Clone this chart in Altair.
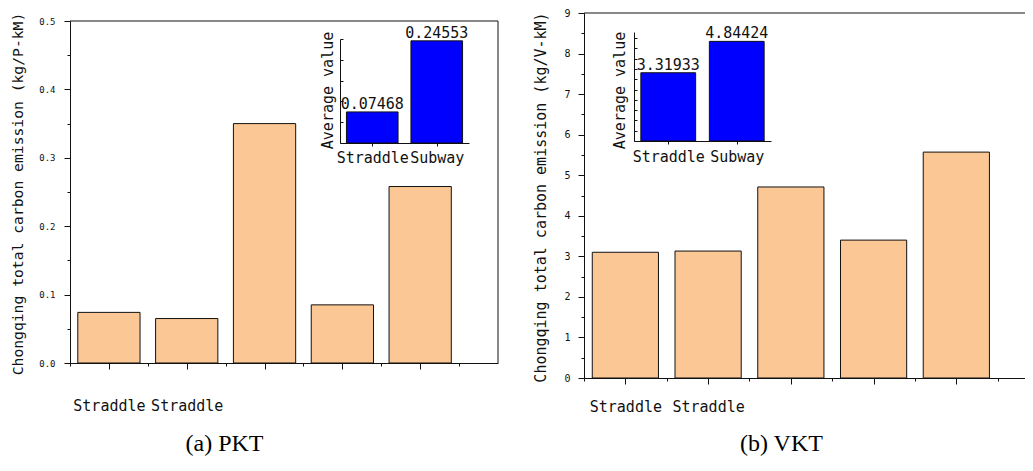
import json
import altair as alt
import pandas as pd

# ---------------- data ----------------
categories = [1, 2, 3, 4, 5]
x_tick_labels = ["Straddle", "Straddle", "", "", ""]
pkt_values = [0.074, 0.065, 0.350, 0.085, 0.258]
vkt_values = [3.10, 3.13, 4.71, 3.40, 5.57]
avg_positions = [1, 2]
avg_categories = ["Straddle", "Subway"]
pkt_avg = [0.07468, 0.24553]
vkt_avg = [3.31933, 4.84424]
pkt_title = "Chongqing total carbon emission (kg/P-kM)"
vkt_title = "Chongqing total carbon emission (kg/V-kM)"
captions = ["(a) PKT", "(b) VKT"]

# ---------------- style / layout ----------------
W, H = 1017, 448
MONO = "DejaVu Sans Mono"
SERIF = "Liberation Serif"
PEACH = "#FBC895"
BLUE = "#0000FF"
INK = "#111111"


def scale(dom, rng):
    return alt.Scale(domain=dom, range=rng, nice=False, zero=False)


def main_panel(vals, xdom, xrange, ydom, yrange, yvalues, ymajor_test,
               ylabel_expr, ytitle, ytitle_xy, caption, caption_xy,
               ylabel_size, ylabel_pad, xlabel_pad, title_size):
    df = pd.DataFrame({"pos": categories, "value": vals})
    x_vals = [v / 2 for v in range(1, 12)]
    labels_js = json.dumps(x_tick_labels)
    x_axis = alt.Axis(
        orient="bottom", offset=yrange[0] - H, values=x_vals,
        tickSize={"condition": {"test": "datum.value == round(datum.value)", "value": 6}, "value": 3},
        labelExpr=(f"(datum.value == round(datum.value) && datum.value >= 1 && "
                   f"datum.value <= {len(x_tick_labels)}) ? {labels_js}[datum.value - 1] : ''"),
        labelFont=MONO, labelFontSize=15, labelPadding=xlabel_pad, labelColor=INK,
        labelFlush=False, labelOverlap=False, labelAngle=0,
        domainColor=INK, tickColor=INK, domainWidth=1, tickWidth=1, grid=False,
        title=caption, titleFont=SERIF, titleFontSize=24, titleFontWeight="normal",
        titleColor="black", titleX=caption_xy[0], titleY=caption_xy[1],
        titleAlign="center", titleBaseline="alphabetic", titleAngle=0,
    )
    y_axis = alt.Axis(
        orient="left", offset=-xrange[0], values=yvalues,
        tickSize={"condition": {"test": ymajor_test, "value": 6}, "value": 3},
        labelExpr=ylabel_expr, labelFont=MONO, labelFontSize=ylabel_size,
        labelPadding=ylabel_pad, labelColor=INK, labelFlush=False, labelOverlap=False,
        domainColor=INK, tickColor=INK, domainWidth=1, tickWidth=1, grid=False,
        title=ytitle, titleFont=MONO, titleFontSize=title_size, titleFontWeight="normal",
        titleColor=INK, titleAngle=270, titleX=ytitle_xy[0], titleY=ytitle_xy[1],
        titleAlign="center", titleBaseline="middle",
    )
    bars = alt.Chart(df).transform_calculate(
        x0="datum.pos - 0.4", x1="datum.pos + 0.4"
    ).mark_bar(fill=PEACH, stroke=INK, strokeWidth=1).encode(
        x=alt.X("x0:Q", scale=scale(xdom, xrange), axis=x_axis),
        x2="x1:Q",
        y=alt.Y("value:Q", scale=scale(ydom, yrange), axis=y_axis),
        y2=alt.Y2(datum=0),
    )
    frame = pd.DataFrame({"x0": [xdom[0]], "x1": [xdom[1]], "y0": [ydom[0]], "y1": [ydom[1]]})
    top_rule = alt.Chart(frame).mark_rule(color=INK, strokeWidth=1).encode(
        x=alt.X("x0:Q", scale=scale(xdom, xrange), axis=None),
        x2="x1:Q",
        y=alt.Y("y1:Q", scale=scale(ydom, yrange), axis=None),
    )
    layers = [bars, top_rule]
    if xdom[1] >= 6:
        right_rule = alt.Chart(frame).mark_rule(color=INK, strokeWidth=1).encode(
            x=alt.X("x1:Q", scale=scale(xdom, xrange), axis=None),
            y=alt.Y("y0:Q", scale=scale(ydom, yrange), axis=None),
            y2="y1:Q",
        )
        layers.append(right_rule)
    return layers


def inset_panel(vals, xrange, ydom, yrange, yvalues, ytick_size, title_xy, label_pad):
    df = pd.DataFrame({"pos": avg_positions, "name": avg_categories, "value": vals})
    xdom = [0.5, 2.5]
    names_js = json.dumps(avg_categories)
    x_axis = alt.Axis(
        orient="bottom", offset=yrange[0] - H, values=avg_positions, tickSize=3,
        labelExpr=f"{names_js}[datum.value - 1]", labelFont=MONO, labelFontSize=15,
        labelPadding=label_pad, labelColor=INK, labelFlush=False, labelOverlap=False,
        labelAngle=0, domainColor=INK, tickColor=INK, domainWidth=1, tickWidth=1,
        grid=False, title=None,
    )
    y_axis = alt.Axis(
        orient="right", offset=xrange[0] - W, values=yvalues, tickSize=ytick_size,
        labels=False, domainColor=INK, tickColor=INK, domainWidth=1, tickWidth=1,
        grid=False, title="Average value", titleFont=MONO, titleFontSize=15,
        titleFontWeight="normal", titleColor=INK, titleAngle=270,
        titleX=title_xy[0], titleY=title_xy[1], titleAlign="center", titleBaseline="middle",
    )
    base = alt.Chart(df).transform_calculate(x0="datum.pos - 0.4", x1="datum.pos + 0.4")
    bars = base.mark_bar(fill=BLUE, stroke=INK, strokeWidth=1).encode(
        x=alt.X("x0:Q", scale=scale(xdom, xrange), axis=x_axis),
        x2="x1:Q",
        y=alt.Y("value:Q", scale=scale(ydom, yrange), axis=y_axis),
        y2=alt.Y2(datum=0),
    )
    text = base.mark_text(baseline="alphabetic", dy=-3, font=MONO, fontSize=15,
                          color=INK).encode(
        x=alt.X("pos:Q", scale=scale(xdom, xrange), axis=None),
        y=alt.Y("value:Q", scale=scale(ydom, yrange), axis=None),
        text=alt.Text("value:Q", format=".5f"),
    )
    return [bars, text]


pkt_y_vals = [round(i * 0.05, 2) for i in range(11)]
vkt_y_vals = [i * 0.5 for i in range(19)]

layers = []
layers += main_panel(
    pkt_values, [0.5, 6.0], [62, 490], [0, 0.5], [355, 13], pkt_y_vals,
    "abs(round(datum.value * 20)) % 2 == 0",
    "abs(round(datum.value * 20)) % 2 == 0 ? format(datum.value, '.1f') : ''",
    pkt_title, (-52, 185.5), captions[0], (216, 87), 9, 9, 29, 14.7,
)
layers += inset_panel(
    pkt_avg, [332, 461], [0, 0.25], [135, 31],
    [round(i * 0.05, 2) for i in range(6)], 3, (-13, 82), 4,
)
layers += main_panel(
    vkt_values, [0.5, 5.83], [576, 1017], [0, 9], [370, 5], vkt_y_vals,
    "datum.value == round(datum.value)",
    "datum.value == round(datum.value) ? format(datum.value, 'd') : ''",
    vkt_title, (-44, 189), captions[1], (773, 72), 10, 8, 15, 15,
)
layers += inset_panel(
    vkt_avg, [626, 763], [0, 5.3], [133, 24],
    [i * 0.5 for i in range(11)], 3, (-15, 82), 5,
)

chart = alt.layer(*layers).resolve_scale(
    x="independent", y="independent"
).resolve_axis(
    x="independent", y="independent"
).properties(
    width=W, height=H, padding=0, autosize=alt.AutoSizeParams(type="none")
).configure_view(strokeWidth=0)

chart.save("out.html", embed_options={"renderer": "svg", "actions": False})
